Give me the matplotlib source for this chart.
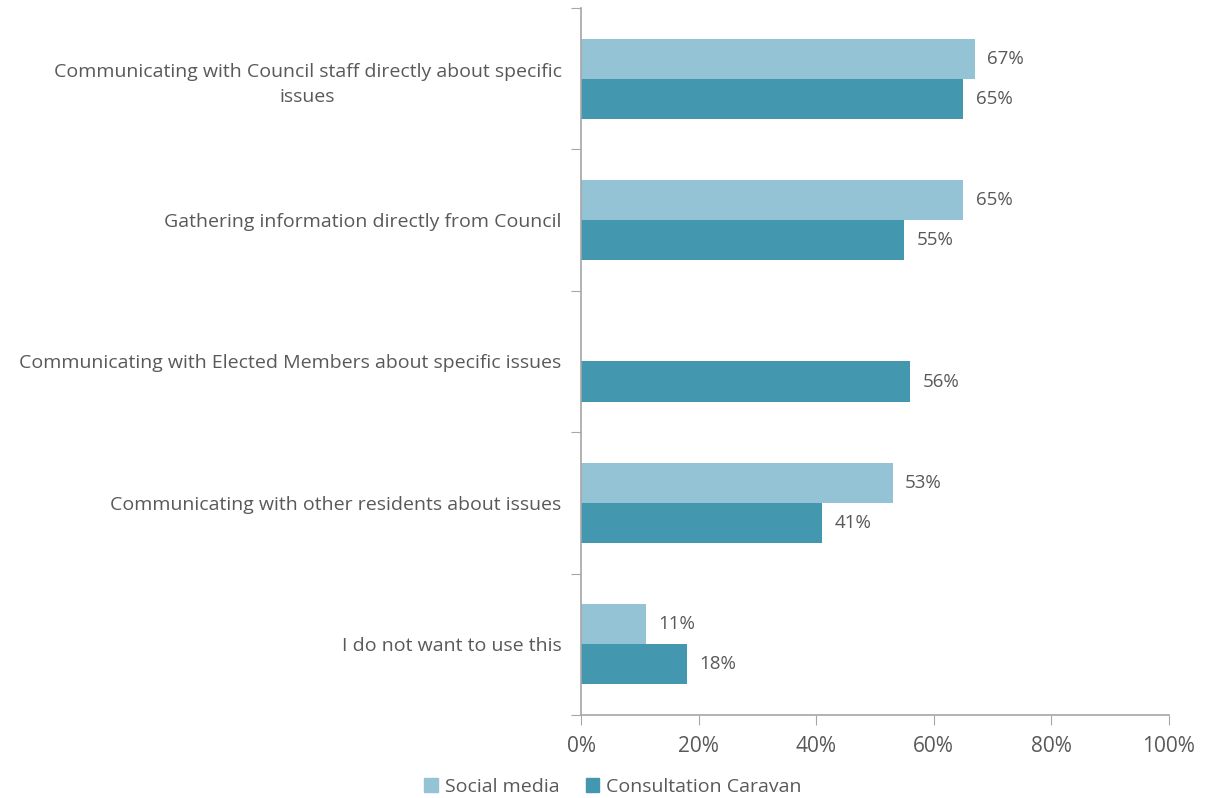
import numpy as np
import matplotlib
matplotlib.use("Agg")
import matplotlib.pyplot as plt
from matplotlib.ticker import PercentFormatter

categories = [
    "Communicating with Council staff directly about specific\nissues",
    "Gathering information directly from Council",
    "Communicating with Elected Members about specific issues",
    "Communicating with other residents about issues",
    "I do not want to use this",
]
social_media = [67, 65, None, 53, 11]
caravan = [65, 55, 56, 41, 18]
series_names = ["Social media", "Consultation Caravan"]

light_blue = "#93c3d4"
dark_blue = "#4398b0"
grey_text = "#595959"
axis_grey = "#a6a6a6"

plt.rcParams["font.family"] = ["Open Sans", "DejaVu Sans"]

fig = plt.figure(figsize=(12.07, 7.98), dpi=100)
ax = fig.add_axes([581 / 1207, 1 - 715 / 798, (1169 - 581) / 1207, (715 - 8) / 798])

y = np.arange(len(categories))
bar_h = 0.283

for i, (s, c) in enumerate(zip(social_media, caravan)):
    if s is not None:
        ax.barh(i - bar_h / 2, s, height=bar_h, color=light_blue)
        ax.text(s + 2.1, i - bar_h / 2, f"{s}%", va="center", ha="left",
                fontsize=13.5, color=grey_text)
    ax.barh(i + bar_h / 2, c, height=bar_h, color=dark_blue)
    ax.text(c + 2.1, i + bar_h / 2, f"{c}%", va="center", ha="left",
            fontsize=13.5, color=grey_text)

ax.set_ylim(len(categories) - 0.5, -0.5)
ax.set_xlim(0, 100)
ax.xaxis.set_major_formatter(PercentFormatter(decimals=0))
ax.set_xticks(np.arange(0, 101, 20))

# category boundaries carry the y ticks, labels sit at the centres
ax.set_yticks(np.arange(-0.5, len(categories), 1.0))
ax.set_yticklabels([])
ax.set_yticks(y, minor=True)
ax.set_yticklabels(categories, minor=True, fontsize=14, color=grey_text,
                   multialignment="center", linespacing=1.55)
ax.tick_params(axis="y", which="minor", length=0, pad=14)
ax.tick_params(axis="y", which="major", length=7, color=axis_grey, direction="out")
ax.tick_params(axis="x", length=7, color=axis_grey, direction="out",
               labelsize=15, labelcolor=grey_text, pad=8)

for side in ["top", "right"]:
    ax.spines[side].set_visible(False)
for side in ["left", "bottom"]:
    ax.spines[side].set_color(axis_grey)
    ax.spines[side].set_linewidth(1.2)

handles = [plt.Rectangle((0, 0), 1, 1, color=light_blue),
           plt.Rectangle((0, 0), 1, 1, color=dark_blue)]
fig.legend(handles, series_names, loc="center", bbox_to_anchor=(613 / 1207, 1 - 787 / 798),
           ncol=2, frameon=False, fontsize=14, labelcolor=grey_text,
           handlelength=0.7, handleheight=0.7, handletextpad=0.35, columnspacing=1.35)

fig.savefig("out.png", dpi=100)
